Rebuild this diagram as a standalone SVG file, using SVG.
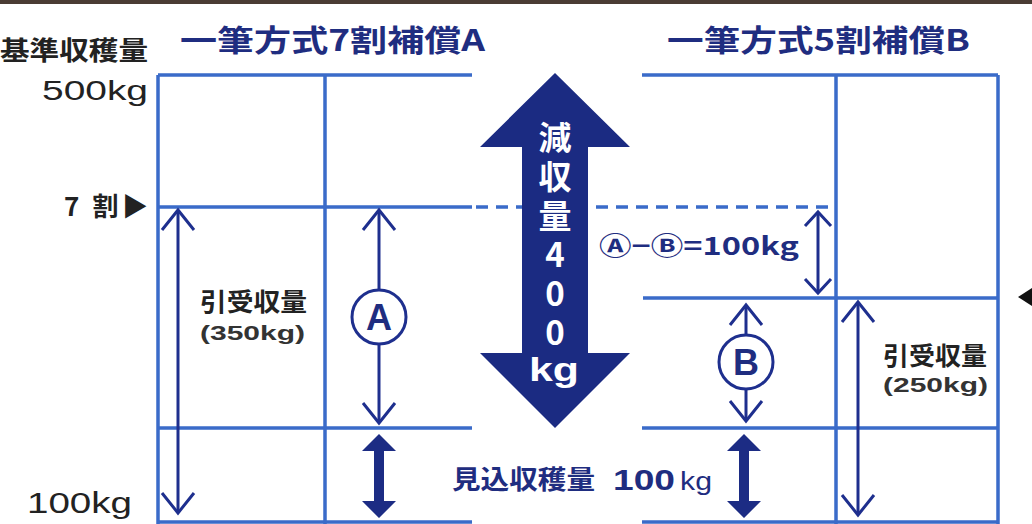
<svg xmlns="http://www.w3.org/2000/svg" width="1032" height="524" viewBox="0 0 1032 524">
<defs>
<style>
.grid{stroke:#3a6bc9;stroke-width:3.5;fill:none}
.dash{stroke:#3a6bc9;stroke-width:3.5;fill:none;stroke-dasharray:12 8}
.thin{stroke:#1e2f8e;stroke-width:3;fill:none}
.circ{stroke:#1e2f8e;stroke-width:3;fill:#fff}
.jp{font-family:"Noto Sans CJK JP","Noto Sans",sans-serif}
.lat{font-family:"Liberation Sans",Arial,sans-serif}
.navy{fill:#1f2d80}
.blk{fill:#222}
.wht{fill:#fff}
.b{font-weight:bold}
.vert{writing-mode:vertical-rl;text-orientation:upright;letter-spacing:6px}
</style>
<marker id="chev" viewBox="-24 -20 28 40" refX="0" refY="0" markerWidth="28" markerHeight="40" markerUnits="userSpaceOnUse" orient="auto-start-reverse" overflow="visible">
<path d="M-20,-16 L0,0 L-20,16" fill="none" stroke="#1e2f8e" stroke-width="3"/>
</marker>
<marker id="chevs" viewBox="-18 -16 22 32" refX="0" refY="0" markerWidth="22" markerHeight="32" markerUnits="userSpaceOnUse" orient="auto-start-reverse" overflow="visible">
<path d="M-14,-13 L0,0 L-14,13" fill="none" stroke="#1e2f8e" stroke-width="3"/>
</marker>
<path id="thick" d="M0,0 L17,17 L5,17 L5,67 L17,67 L0,84 L-17,67 L-5,67 L-5,17 L-17,17 Z" fill="#1c2c84"/>
</defs>
<rect x="0" y="0" width="1032" height="524" fill="#fff"/>
<rect x="0" y="0" width="1032" height="4" fill="#4a3c34"/>

<g id="grid-left">
<path class="grid" d="M158,75 H472 M158,207 H472 M158,428 H472 M158,522 H472 M158,75 V524 M325,75 V524"/>
</g>
<g id="grid-right">
<path class="grid" d="M642,75 H998 M643,298 H998 M642,428 H998 M642,522 H998 M836,75 V524 M998,75 V524"/>
<path class="dash" d="M476,207 H836"/>
</g>

<g id="big-arrow">
<polygon points="555,73 630,147 588,147 588,353 630,353 555,428 480,353 522,353 522,147 480,147" fill="#1b2b82"/>
<text class="jp b wht vert" x="555" y="121" font-size="33">減収量400</text>
<text class="lat b wht" x="554" y="381" font-size="34" text-anchor="middle" textLength="50" lengthAdjust="spacingAndGlyphs">kg</text>
</g>

<g id="connectors">
<line class="thin" x1="178" y1="210" x2="178" y2="513" marker-start="url(#chev)" marker-end="url(#chev)"/>
<line class="thin" x1="379" y1="210" x2="379" y2="423" marker-start="url(#chev)" marker-end="url(#chev)"/>
<line class="thin" x1="818" y1="212" x2="818" y2="293" marker-start="url(#chevs)" marker-end="url(#chevs)"/>
<line class="thin" x1="746" y1="305" x2="746" y2="421" marker-start="url(#chev)" marker-end="url(#chev)"/>
<line class="thin" x1="858" y1="302" x2="858" y2="515" marker-start="url(#chev)" marker-end="url(#chev)"/>
<use href="#thick" x="379" y="434"/>
<use href="#thick" x="744" y="434"/>
</g>

<g id="node-A">
<circle class="circ" cx="379" cy="317" r="27"/>
<text class="lat b navy" x="379" y="330" font-size="36" text-anchor="middle">A</text>
</g>
<g id="node-B">
<circle class="circ" cx="746" cy="362" r="27"/>
<text class="lat b navy" x="746" y="375" font-size="36" text-anchor="middle">B</text>
</g>

<g id="title-A">
<text class="jp b navy" x="180" y="51" font-size="30" textLength="305" lengthAdjust="spacingAndGlyphs">一筆方式7割補償A</text>
</g>
<g id="title-B">
<text class="jp b navy" x="667" y="51" font-size="30" textLength="303" lengthAdjust="spacingAndGlyphs">一筆方式5割補償B</text>
</g>

<g id="axis-labels">
<text class="jp b blk" x="0" y="60" font-size="26" textLength="148" lengthAdjust="spacingAndGlyphs">基準収穫量</text>
<text class="lat blk" x="42" y="100" font-size="28" textLength="106" lengthAdjust="spacingAndGlyphs">500kg</text>
<text class="jp b blk" x="64" y="216" font-size="26" textLength="84">7 割▶</text>
<text class="lat blk" x="27" y="513" font-size="29" textLength="105" lengthAdjust="spacingAndGlyphs">100kg</text>
<polygon points="1018,297 1032,288 1032,306" fill="#111"/>
</g>

<g id="label-left">
<text class="jp b blk" x="200" y="311" font-size="25" textLength="107" lengthAdjust="spacingAndGlyphs">引受収量</text>
<text class="lat b" fill="#333" x="200" y="340" font-size="21" textLength="105" lengthAdjust="spacingAndGlyphs">(350kg)</text>
</g>
<g id="label-right">
<text class="jp b blk" x="883" y="365" font-size="25" textLength="104" lengthAdjust="spacingAndGlyphs">引受収量</text>
<text class="lat b" fill="#333" x="883" y="392" font-size="21" textLength="105" lengthAdjust="spacingAndGlyphs">(250kg)</text>
</g>
<g id="label-diff">
<text class="jp b navy" x="599" y="255" font-size="25" textLength="200" lengthAdjust="spacingAndGlyphs">Ⓐ−Ⓑ=100kg</text>
</g>
<g id="label-expected">
<text class="jp b navy" x="452" y="489" font-size="26" textLength="143" lengthAdjust="spacingAndGlyphs">見込収穫量</text>
<text class="lat b navy" x="613" y="490" font-size="30" textLength="62" lengthAdjust="spacingAndGlyphs">100</text>
<text class="lat navy" x="680" y="490" font-size="26" textLength="32" lengthAdjust="spacingAndGlyphs">kg</text>
</g>
</svg>
